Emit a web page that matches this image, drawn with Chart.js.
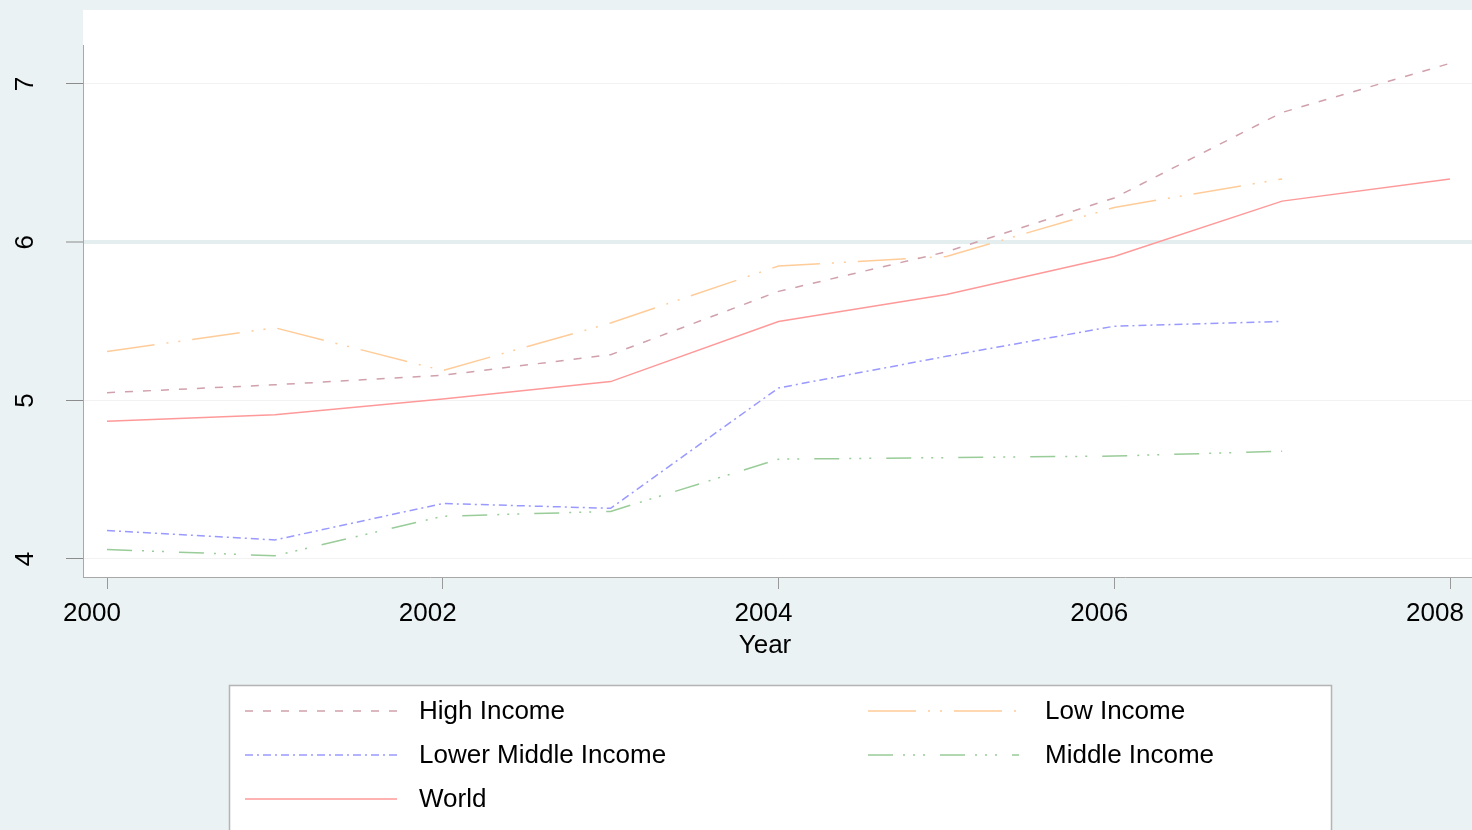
<!DOCTYPE html>
<html>
<head>
<meta charset="utf-8">
<script src="https://cdn.jsdelivr.net/npm/chart.js@4.4.1/dist/chart.umd.min.js"></script>
<style>
  html, body { margin: 0; padding: 0; background: #EAF2F3; }
  #wrap { width: 1472px; height: 830px; position: relative; }
</style>
</head>
<body>
<div id="wrap"><canvas id="c" width="1472" height="830"></canvas></div>
<script>
// ---- data ----
const years = [2000, 2001, 2002, 2003, 2004, 2005, 2006, 2007, 2008];
const highIncome        = [5.05, 5.10, 5.16, 5.29, 5.69, 5.94, 6.28, 6.82, 7.13];
const lowIncome         = [5.31, 5.46, 5.19, 5.49, 5.85, 5.91, 6.22, 6.40];
const lowerMiddleIncome = [4.18, 4.12, 4.35, 4.32, 5.08, 5.28, 5.47, 5.50];
const middleIncome      = [4.06, 4.02, 4.27, 4.30, 4.63, 4.64, 4.65, 4.68];
const world             = [4.87, 4.91, 5.01, 5.12, 5.50, 5.67, 5.91, 6.26, 6.40];
const seriesNames = ['High Income', 'Low Income', 'Lower Middle Income', 'Middle Income', 'World'];
const xTickValues = [2000, 2002, 2004, 2006, 2008];
const yTickValues = [4, 5, 6, 7];
const xTitle = 'Year';

const FONT = '"Liberation Sans", Arial, sans-serif';

function pts(arr) { return arr.map((v, i) => ({ x: years[i], y: v })); }

const styles = [
  { color: '#D0A0AC', dash: [8, 10] },
  { color: '#FFCC99', dash: [48, 12, 2, 10, 2, 12] },
  { color: '#9999FF', dash: [8, 4, 2, 4] },
  { color: '#99CC99', dash: [25, 10, 2, 8, 2, 8, 2, 15] },
  { color: '#FF9999', dash: [] }
];
const allSeries = [highIncome, lowIncome, lowerMiddleIncome, middleIncome, world];

const datasets = allSeries.map((s, i) => ({
  label: seriesNames[i],
  data: pts(s),
  borderColor: styles[i].color,
  borderDash: styles[i].dash,
  borderWidth: 1.5,
  pointRadius: 0,
  tension: 0,
  fill: false
}));

const bgPlugin = {
  id: 'bg',
  beforeDraw(chart) {
    const { ctx, chartArea: a } = chart;
    ctx.save();
    ctx.fillStyle = '#EAF2F3';
    ctx.fillRect(0, 0, chart.width, chart.height);
    ctx.fillStyle = '#FFFFFF';
    ctx.fillRect(a.left, a.top, a.right - a.left, a.bottom - a.top);
    ctx.restore();
  },
  afterDraw(chart) {
    const { ctx, chartArea: a } = chart;
    const ys = chart.scales.y;
    ctx.save();
    // left axis line
    ctx.strokeStyle = '#A8A8A8';
    ctx.lineWidth = 1;
    ctx.beginPath();
    ctx.moveTo(a.left + 0.5, 45);
    ctx.lineTo(a.left + 0.5, a.bottom);
    ctx.stroke();
    // rotated y tick labels
    ctx.fillStyle = '#000';
    ctx.font = '26px ' + FONT;
    ctx.textAlign = 'center';
    ctx.textBaseline = 'middle';
    yTickValues.forEach(v => {
      const py = ys.getPixelForValue(v);
      ctx.save();
      ctx.translate(26, py);
      ctx.rotate(-Math.PI / 2);
      ctx.fillText(String(v), 0, 0);
      ctx.restore();
    });
    // x title
    ctx.fillText(xTitle, 765, 646);
    // legend box
    ctx.fillStyle = '#FFFFFF';
    ctx.fillRect(229.5, 685.5, 1102, 200);
    ctx.strokeStyle = '#B4B4B4';
    ctx.lineWidth = 1.5;
    ctx.strokeRect(229.5, 685.5, 1102, 200);
    const cols = [{ x0: 245, x1: 397, tx: 419 }, { x0: 868, x1: 1019, tx: 1045 }];
    const rows = [711, 755, 799];
    chart.data.datasets.forEach((ds, i) => {
      const c = cols[i % 2], ry = rows[Math.floor(i / 2)];
      ctx.save();
      ctx.strokeStyle = ds.borderColor;
      ctx.lineWidth = 1.5;
      ctx.setLineDash(ds.borderDash);
      ctx.beginPath();
      ctx.moveTo(c.x0, ry);
      ctx.lineTo(c.x1, ry);
      ctx.stroke();
      ctx.restore();
      ctx.fillStyle = '#000';
      ctx.font = '26px ' + FONT;
      ctx.textAlign = 'left';
      ctx.textBaseline = 'middle';
      ctx.fillText(ds.label, c.tx, ry + 1);
    });
    ctx.restore();
  }
};

new Chart(document.getElementById('c'), {
  type: 'line',
  data: { datasets },
  plugins: [bgPlugin],
  options: {
    responsive: false,
    animation: false,
    events: [],
    layout: { padding: { top: 10, right: 0, left: 0, bottom: 0 } },
    plugins: { legend: { display: false }, tooltip: { enabled: false } },
    scales: {
      x: {
        type: 'linear',
        min: 1999.857,
        max: 2008.131,
        afterBuildTicks(scale) { scale.ticks = xTickValues.map(v => ({ value: v })); },
        afterFit(scale) { scale.height = 253; scale.paddingLeft = 0; scale.paddingRight = 0; },
        grid: { drawOnChartArea: false, drawTicks: true, tickLength: 12, tickColor: '#999999', tickWidth: 1 },
        border: { display: true, color: '#A8A8A8', width: 1 },
        ticks: {
          color: '#000',
          font: { family: FONT, size: 26 },
          padding: 9,
          labelOffset: -15,
          maxRotation: 0,
          autoSkip: false,
          callback: v => String(v)
        }
      },
      y: {
        type: 'linear',
        min: 3.886,
        max: 7.467,
        afterBuildTicks(scale) { scale.ticks = yTickValues.map(v => ({ value: v })); },
        afterFit(scale) { scale.width = 83; scale.paddingTop = 0; scale.paddingBottom = 0; },
        grid: {
          drawOnChartArea: true,
          drawTicks: true,
          tickLength: 17,
          tickColor: '#8C8C8C',
          tickWidth: 1,
          color: c => (c.tick && c.tick.value === 6) ? '#E4EEEF' : '#F2F2F2',
          lineWidth: c => (c.tick && c.tick.value === 6) ? 4 : 1
        },
        border: { display: false },
        ticks: { display: false }
      }
    }
  }
});
</script>
</body>
</html>
